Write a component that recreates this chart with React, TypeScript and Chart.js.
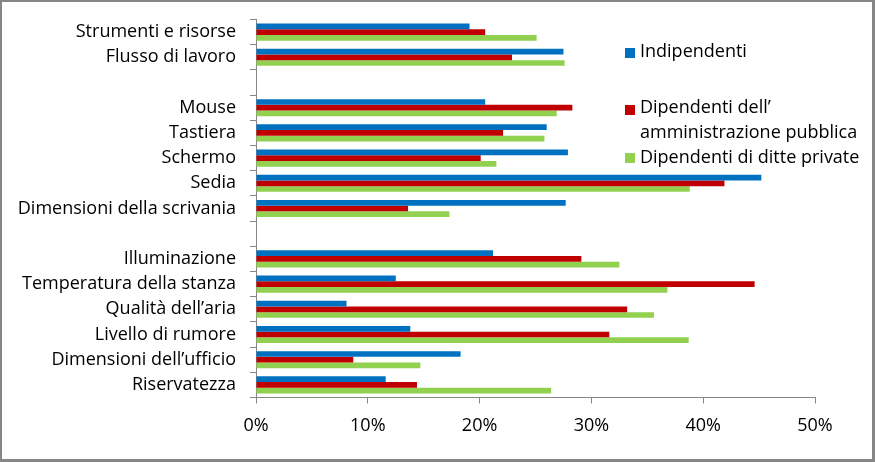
import React, { useEffect, useRef } from "react";
import { Chart, registerables } from "chart.js";

Chart.register(...registerables);

const categories = [
  "Strumenti e risorse",
  "Flusso di lavoro",
  "",
  "Mouse",
  "Tastiera",
  "Schermo",
  "Sedia",
  "Dimensioni della scrivania",
  "",
  "Illuminazione",
  "Temperatura della stanza",
  "Qualità dell’aria",
  "Livello di rumore",
  "Dimensioni dell’ufficio",
  "Riservatezza",
];

const indipendenti = [19.1, 27.5, null, 20.5, 26.0, 27.9, 45.2, 27.7, null, 21.2, 12.5, 8.1, 13.8, 18.3, 11.6];
const pubblica = [20.5, 22.9, null, 28.3, 22.1, 20.1, 41.9, 13.6, null, 29.1, 44.6, 33.2, 31.6, 8.7, 14.4];
const private_ = [25.1, 27.6, null, 26.9, 25.8, 21.5, 38.8, 17.3, null, 32.5, 36.8, 35.6, 38.7, 14.7, 26.4];

const seriesNames = ["Indipendenti", ["Dipendenti dell’", "amministrazione pubblica"], "Dipendenti di ditte private"];
const seriesColors = ["#0070C0", "#C00000", "#92D050"];
const xTicks = [0, 10, 20, 30, 40, 50];

const FONT = "'Open Sans', sans-serif";
const FONT_SIZE = 18;

export default function App() {
  const ref = useRef<HTMLCanvasElement | null>(null);

  useEffect(() => {
    document.body.style.margin = "0";
    const canvas = ref.current;
    if (!canvas) return;

    const legendPlugin = {
      id: "customLegend",
      afterDraw(chart: any) {
        const ctx = chart.ctx;
        ctx.save();
        ctx.font = `${FONT_SIZE}px ${FONT}`;
        ctx.textBaseline = "middle";
        ctx.fillStyle = "#000";
        const items = [
          { y: [50], sq: 51 },
          { y: [106, 131], sq: 108 },
          { y: [156], sq: 156 },
        ];
        items.forEach((it, i) => {
          ctx.fillStyle = seriesColors[i];
          ctx.fillRect(623, it.sq - 5, 10, 10);
          ctx.fillStyle = "#000";
          const name = seriesNames[i];
          const lines = Array.isArray(name) ? name : [name];
          lines.forEach((ln, j) => ctx.fillText(ln, 638, it.y[j]));
        });
        ctx.restore();
      },
    };

    const chart = new Chart(canvas, {
      type: "bar",
      data: {
        labels: categories,
        datasets: [
          { label: "Indipendenti", data: indipendenti, backgroundColor: seriesColors[0] },
          { label: "Dipendenti dell’amministrazione pubblica", data: pubblica, backgroundColor: seriesColors[1] },
          { label: "Dipendenti di ditte private", data: private_, backgroundColor: seriesColors[2] },
        ],
      },
      options: {
        indexAxis: "y",
        responsive: false,
        animation: false,
        devicePixelRatio: 1,
        layout: { padding: { top: 17.5, right: 57, left: 0, bottom: 0 } },
        datasets: { bar: { categoryPercentage: 0.68, barPercentage: 1.0 } },
        plugins: {
          legend: { display: false },
          tooltip: { enabled: false },
        },
        scales: {
          y: {
            type: "category",
            grid: {
              offset: true,
              drawOnChartArea: false,
              tickLength: 6,
              color: "#868686",
            },
            border: { color: "#868686", width: 1 },
            ticks: {
              font: { family: FONT, size: FONT_SIZE },
              color: "#000",
              padding: 14,
              autoSkip: false,
            },
            afterFit: (s: any) => {
              s.width = 254;
              s.paddingTop = 0;
              s.paddingBottom = 0;
            },
          },
          x: {
            type: "linear",
            min: xTicks[0],
            max: xTicks[xTicks.length - 1],
            afterBuildTicks: (s: any) => {
              s.ticks = xTicks.map((v) => ({ value: v }));
            },
            grid: {
              drawOnChartArea: false,
              tickLength: 6,
              color: "#868686",
            },
            border: { color: "#868686", width: 1 },
            ticks: {
              font: { family: FONT, size: FONT_SIZE },
              color: "#000",
              padding: 12,
              callback: (v: any) => `${v}%`,
            },
            afterFit: (s: any) => {
              s.height = 61.5;
              s.paddingLeft = 0;
              s.paddingRight = 0;
            },
          },
        },
      },
      plugins: [legendPlugin],
    });

    return () => chart.destroy();
  }, []);

  return (
    <div
      style={{
        position: "absolute",
        left: 0,
        top: 0,
        width: 875,
        height: 462,
        boxSizing: "border-box",
        border: "2px solid #868686",
        borderRightWidth: 3,
        borderBottomWidth: 3,
        background: "#fff",
      }}
    >
      <canvas ref={ref} width={870} height={457} style={{ display: "block", width: 870, height: 457 }} />
    </div>
  );
}
